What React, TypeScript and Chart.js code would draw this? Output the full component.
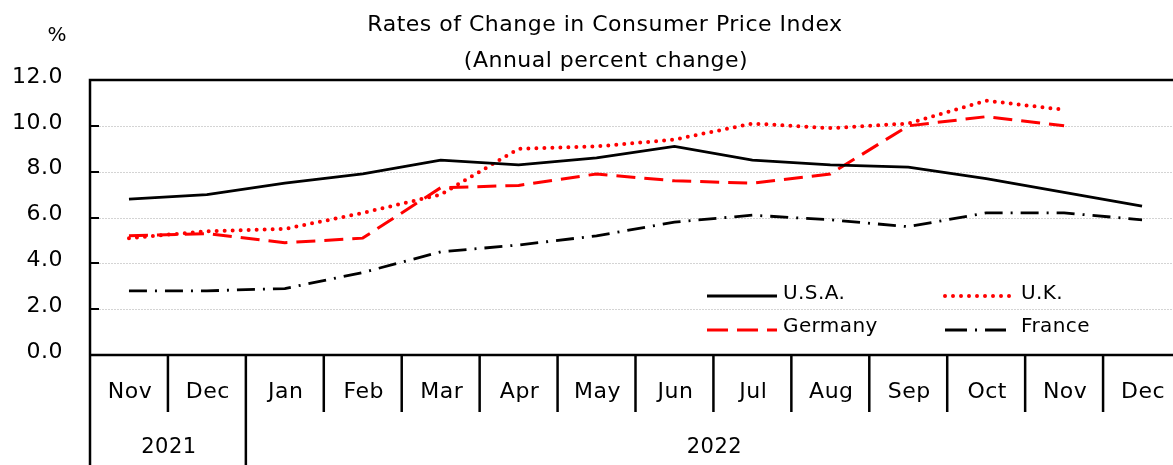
import { useEffect, useRef } from 'react';
import { Chart, registerables } from 'chart.js';

Chart.register(...registerables);

const months = ['Nov', 'Dec', 'Jan', 'Feb', 'Mar', 'Apr', 'May', 'Jun', 'Jul', 'Aug', 'Sep', 'Oct', 'Nov', 'Dec'];
const yearLabels = ['2021', '2022'];
const yearMonthCounts = [2, 12];
const yTicks = [0, 2, 4, 6, 8, 10, 12];
const yTickLabels = ['0.0', '2.0', '4.0', '6.0', '8.0', '10.0', '12.0'];

const usa = [6.8, 7.0, 7.5, 7.9, 8.5, 8.3, 8.6, 9.1, 8.5, 8.3, 8.2, 7.7, 7.1, 6.5];
const uk = [5.1, 5.4, 5.5, 6.2, 7.0, 9.0, 9.1, 9.4, 10.1, 9.9, 10.1, 11.1, 10.7, null];
const germany = [5.2, 5.3, 4.9, 5.1, 7.3, 7.4, 7.9, 7.6, 7.5, 7.9, 10.0, 10.4, 10.0, null];
const france = [2.8, 2.8, 2.9, 3.6, 4.5, 4.8, 5.2, 5.8, 6.1, 5.9, 5.6, 6.2, 6.2, 5.9];

const seriesNames = ['U.S.A.', 'U.K.', 'Germany', 'France'];

const titleLines = ['Rates of Change in Consumer Price Index', '(Annual percent change)'];
const unitLabel = '%';

const CANVAS_W = 1185;
const CANVAS_H = 465;
const FAMILY = '"DejaVu Sans"';

const setFont = (ctx: any, size: number, spacing: number) => {
  ctx.font = `${size}px ${FAMILY}`;
  ctx.letterSpacing = `${spacing}px`;
};

const decorPlugin = {
  id: 'decor',
  beforeDatasetsDraw(chart: any) {
    const ctx = chart.ctx;
    const area = chart.chartArea;
    const y = chart.scales.y;
    ctx.save();
    ctx.strokeStyle = '#d4d4d4';
    ctx.lineWidth = 1;
    ctx.setLineDash([2, 1]);
    yTicks.forEach((v) => {
      if (v === 0 || v === 12) return;
      const py = Math.round(y.getPixelForValue(v)) + 0.5;
      ctx.beginPath();
      ctx.moveTo(area.left, py);
      ctx.lineTo(area.right, py);
      ctx.stroke();
    });
    ctx.restore();
  },
  afterDraw(chart: any) {
    const ctx = chart.ctx;
    const area = chart.chartArea;
    const x = chart.scales.x;
    const y = chart.scales.y;
    const step = x.getPixelForValue(1) - x.getPixelForValue(0);
    ctx.save();
    // frame
    ctx.strokeStyle = '#000';
    ctx.setLineDash([]);
    ctx.lineWidth = 2.5;
    ctx.beginPath();
    ctx.moveTo(area.left, area.bottom);
    ctx.lineTo(area.left, area.top);
    ctx.lineTo(area.right, area.top);
    ctx.lineTo(area.right, area.bottom);
    ctx.stroke();
    ctx.beginPath();
    ctx.moveTo(area.left, area.bottom);
    ctx.lineTo(area.right, area.bottom);
    ctx.stroke();
    // inner y ticks
    ctx.lineWidth = 2;
    yTicks.forEach((v) => {
      if (v === 0 || v === 12) return;
      const py = Math.round(y.getPixelForValue(v));
      ctx.beginPath();
      ctx.moveTo(area.left, py);
      ctx.lineTo(area.left + 9, py);
      ctx.stroke();
    });
    // category separators
    ctx.lineWidth = 2.5;
    const yearBounds: number[] = [0];
    let acc = 0;
    yearMonthCounts.forEach((c) => {
      acc += c;
      yearBounds.push(acc);
    });
    for (let k = 0; k <= months.length; k++) {
      const px = x.getPixelForValue(0) - step / 2 + k * step;
      const full = yearBounds.indexOf(k) >= 0;
      ctx.beginPath();
      ctx.moveTo(px, area.bottom);
      ctx.lineTo(px, full ? CANVAS_H : 412);
      ctx.stroke();
    }
    // text
    ctx.fillStyle = '#000';
    ctx.textBaseline = 'middle';
    // y tick labels
    setFont(ctx, 22, 0.5);
    ctx.textAlign = 'right';
    yTicks.forEach((v, i) => {
      ctx.fillText(yTickLabels[i], 63, y.getPixelForValue(v) - 3);
    });
    // month labels
    ctx.textAlign = 'center';
    months.forEach((m, i) => {
      ctx.fillText(m, x.getPixelForValue(i) + 1, 392);
    });
    // year labels
    setFont(ctx, 21, 0.5);
    yearLabels.forEach((lab, i) => {
      const s = yearBounds[i];
      const e = yearBounds[i + 1];
      const cx = x.getPixelForValue(0) - step / 2 + ((s + e) / 2) * step;
      ctx.fillText(lab, cx + 1, 448);
    });
    // titles
    setFont(ctx, 22, 0.5);
    ctx.fillText(titleLines[0], 605, 25);
    ctx.fillText(titleLines[1], 606, 61);
    setFont(ctx, 20, 0);
    ctx.fillText(unitLabel, 57, 36);
    // legend
    setFont(ctx, 20, 0.4);
    ctx.textAlign = 'left';
    const ds = chart.data.datasets;
    const items = [
      { i: 0, x1: 707, x2: 777, ly: 296, tx: 783, ty: 294 },
      { i: 1, x1: 945, x2: 1013, ly: 296, tx: 1021, ty: 294 },
      { i: 2, x1: 707, x2: 777, ly: 330, tx: 783, ty: 327 },
      { i: 3, x1: 945, x2: 1006, ly: 330, tx: 1021, ty: 327 },
    ];
    items.forEach((it) => {
      const d = ds[it.i];
      ctx.strokeStyle = d.borderColor;
      ctx.lineWidth = d.borderWidth;
      ctx.lineCap = d.borderCapStyle || 'butt';
      ctx.setLineDash(d.legendDash || d.borderDash || []);
      ctx.beginPath();
      ctx.moveTo(it.x1, it.ly);
      ctx.lineTo(it.x2, it.ly);
      ctx.stroke();
      ctx.setLineDash([]);
      ctx.lineCap = 'butt';
      ctx.fillText(seriesNames[it.i], it.tx, it.ty);
    });
    ctx.restore();
  },
};

export default function App() {
  const ref = useRef<HTMLCanvasElement | null>(null);
  useEffect(() => {
    if (!ref.current) return;
    const chart = new Chart(ref.current, {
      type: 'line',
      data: {
        labels: months,
        datasets: [
          {
            label: seriesNames[0],
            data: usa,
            borderColor: '#000000',
            borderWidth: 2.8,
            pointRadius: 0,
            tension: 0,
          },
          {
            label: seriesNames[1],
            data: uk,
            borderColor: '#ff0000',
            borderWidth: 4,
            borderDash: [0, 8],
            borderCapStyle: 'round',
            pointRadius: 0,
            tension: 0,
          },
          {
            label: seriesNames[2],
            data: germany,
            borderColor: '#ff0000',
            borderWidth: 3,
            borderDash: [19, 9],
            legendDash: [21, 9],
            pointRadius: 0,
            tension: 0,
          } as any,
          {
            label: seriesNames[3],
            data: france,
            borderColor: '#000000',
            borderWidth: 2.8,
            borderDash: [18, 8, 2, 8],
            legendDash: [22, 8, 2, 8],
            pointRadius: 0,
            tension: 0,
          } as any,
        ],
      },
      options: {
        responsive: false,
        animation: false,
        layout: { padding: { left: 90, top: 80, right: CANVAS_W - 1181, bottom: CANVAS_H - 355 } },
        scales: {
          x: { type: 'category', display: false, offset: true },
          y: { display: false, min: 0, max: 12 },
        },
        plugins: {
          legend: { display: false },
          tooltip: { enabled: false },
          title: { display: false },
        },
      },
      plugins: [decorPlugin],
    });
    return () => chart.destroy();
  }, []);
  return (
    <div
      style={{
        position: 'fixed',
        left: 0,
        top: 0,
        width: 1173,
        height: 465,
        overflow: 'hidden',
        background: '#fff',
      }}
    >
      <canvas ref={ref} width={CANVAS_W} height={CANVAS_H} style={{ width: CANVAS_W, height: CANVAS_H, display: 'block' }} />
    </div>
  );
}
